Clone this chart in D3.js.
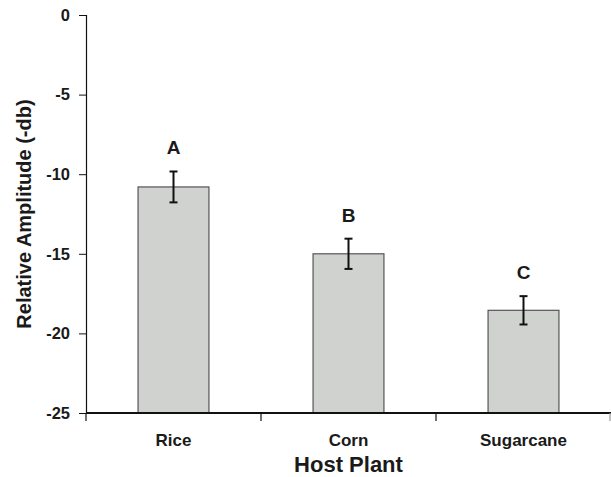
<!DOCTYPE html>
<html>
<head>
<meta charset="utf-8">
<script src="https://cdn.jsdelivr.net/npm/d3@7"></script>
<style>
  body { margin: 0; background: #fff; }
  svg text { font-family: "Liberation Sans", Arial, sans-serif; font-weight: bold; fill: #1a1a1a; }
</style>
</head>
<body>
<div id="chart"></div>
<script>
// Data
const plants = ["Rice", "Corn", "Sugarcane"];
const amplitudes = [-10.8, -15.0, -18.55];
const errors = [0.97, 0.95, 0.89];
const groups = ["A", "B", "C"];
const yTicks = [0, -5, -10, -15, -20, -25];

const width = 611;
const height = 477;
const margin = { top: 15, right: 0, bottom: 64, left: 86 };

const svg = d3
  .select("#chart")
  .append("svg")
  .attr("width", width)
  .attr("height", height);

const x = d3
  .scaleBand()
  .domain(plants)
  .range([margin.left, width - margin.right])
  .paddingInner(0.595)
  .paddingOuter(0.2975);

const y = d3
  .scaleLinear()
  .domain([-25, 0])
  .range([height - margin.bottom, margin.top]);

const rows = plants.map((p, i) => ({
  plant: p,
  value: amplitudes[i],
  err: errors[i],
  group: groups[i]
}));

// Bars hang from the bottom of the axis (-25) up to the value
svg
  .selectAll("rect.bar")
  .data(rows)
  .enter()
  .append("rect")
  .attr("class", "bar")
  .attr("x", (d) => x(d.plant))
  .attr("width", x.bandwidth())
  .attr("y", (d) => y(d.value))
  .attr("height", (d) => y(-25) - y(d.value))
  .attr("fill", "#d0d2d0")
  .attr("stroke", "#555")
  .attr("stroke-width", 1.2);

// Error bars
const eb = svg
  .selectAll("g.err")
  .data(rows)
  .enter()
  .append("g")
  .attr("class", "err")
  .attr("stroke", "#111")
  .attr("stroke-width", 2);

eb.append("line")
  .attr("x1", (d) => x(d.plant) + x.bandwidth() / 2)
  .attr("x2", (d) => x(d.plant) + x.bandwidth() / 2)
  .attr("y1", (d) => y(d.value + d.err))
  .attr("y2", (d) => y(d.value - d.err));

[1, -1].forEach((s) => {
  eb.append("line")
    .attr("x1", (d) => x(d.plant) + x.bandwidth() / 2 - 4)
    .attr("x2", (d) => x(d.plant) + x.bandwidth() / 2 + 4)
    .attr("y1", (d) => y(d.value + s * d.err))
    .attr("y2", (d) => y(d.value + s * d.err));
});

// Significance letters
svg
  .selectAll("text.group")
  .data(rows)
  .enter()
  .append("text")
  .attr("class", "group")
  .attr("x", (d) => x(d.plant) + x.bandwidth() / 2)
  .attr("y", (d) => y(d.value + d.err) - 17)
  .attr("text-anchor", "middle")
  .style("font-size", "19px")
  .text((d) => d.group);

// Y axis
const yAxis = svg
  .append("g")
  .attr("transform", `translate(${margin.left},0)`)
  .call(
    d3.axisLeft(y)
      .tickValues(yTicks)
      .tickSize(7)
      .tickPadding(9)
      .tickFormat((d) => String(d))
  );
yAxis.selectAll("text").style("font-size", "16.5px").style("fill", "#1a1a1a");
yAxis.select(".domain").attr("stroke", "#111").attr("stroke-width", 1.2);
yAxis.selectAll(".tick line").attr("stroke", "#111");

// X axis
const xEdges = [margin.left].concat(plants.map((p) => x(p) + x.bandwidth() + (x.step() - x.bandwidth()) / 2));
const xAxis = svg
  .append("g")
  .attr("transform", `translate(0,${y(-25)})`);
xAxis
  .append("line")
  .attr("x1", margin.left)
  .attr("x2", width)
  .attr("stroke", "#111")
  .attr("stroke-width", 2.2);
xAxis
  .selectAll("line.tick")
  .data(xEdges)
  .enter()
  .append("line")
  .attr("class", "tick")
  .attr("x1", (d) => Math.min(d, width - 1))
  .attr("x2", (d) => Math.min(d, width - 1))
  .attr("y1", 0)
  .attr("y2", 8)
  .attr("stroke", (d, i) => (i === xEdges.length - 1 ? "#999" : "#111"))
  .attr("stroke-width", 1.2);
xAxis
  .selectAll("text.cat")
  .data(plants)
  .enter()
  .append("text")
  .attr("class", "cat")
  .attr("x", (d) => x(d) + x.bandwidth() / 2)
  .attr("y", 33)
  .attr("text-anchor", "middle")
  .style("font-size", "17px")
  .text((d) => d);

// Axis titles
svg
  .append("text")
  .attr("x", x("Corn") + x.bandwidth() / 2)
  .attr("y", 472)
  .attr("text-anchor", "middle")
  .style("font-size", "22px")
  .text("Host Plant");

svg
  .append("text")
  .attr("transform", `translate(31,${(y(0) + y(-25)) / 2}) rotate(-90)`)
  .attr("text-anchor", "middle")
  .style("font-size", "20px")
  .text("Relative Amplitude (-db)");
</script>
</body>
</html>
